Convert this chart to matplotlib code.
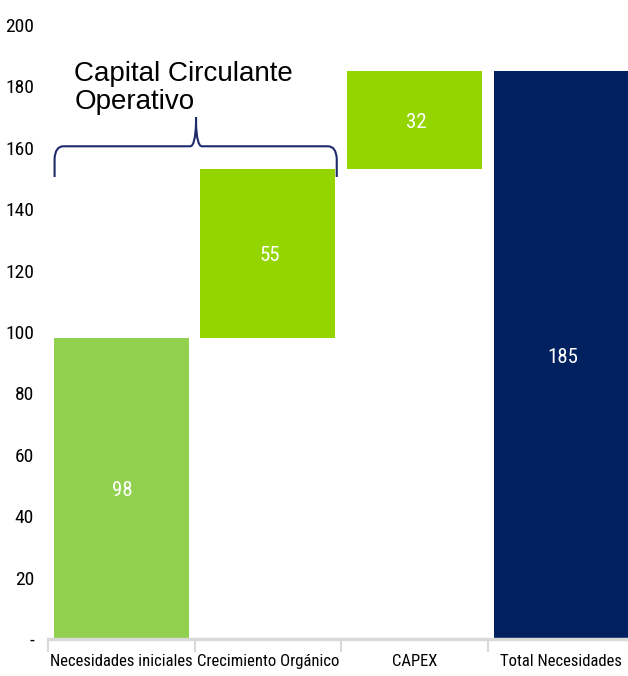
import matplotlib
matplotlib.use("Agg")
import matplotlib.pyplot as plt
from matplotlib.path import Path
from matplotlib.patches import PathPatch

# fuente estrecha tipo Arial Narrow para ejes y etiquetas
plt.rcParams["font.family"] = ["Roboto Condensed", "Archivo Narrow", "Liberation Sans", "DejaVu Sans"]

# ---------------------- datos ----------------------
categorias = ["Necesidades iniciales", "Crecimiento Orgánico", "CAPEX", "Total Necesidades"]
valores = [98, 55, 32, 185]
bases = [0, 98, 153, 0]
colores = ["#92D050", "#94D500", "#94D500", "#002060"]
yticks = [0, 20, 40, 60, 80, 100, 120, 140, 160, 180, 200]
ytick_labels = ["-"] + [str(v) for v in yticks[1:]]

# ---------------------- figura ----------------------
fig = plt.figure(figsize=(6.28, 6.76), dpi=100)
ax = fig.add_axes([0.0764, 0.0547, 0.9236, 0.9083])

x = list(range(len(categorias)))
ax.bar(x, valores, bottom=bases, width=0.92, color=colores, edgecolor="none", zorder=2)

for xi, v, b in zip(x, valores, bases):
    ax.text(xi + 0.01, b + v / 2, str(v), ha="center", va="center_baseline",
            color="white", fontsize=15)

ax.set_xlim(-0.5, 3.457)
ax.set_ylim(0, 200)
ax.set_yticks(yticks)
ax.set_yticklabels(ytick_labels, fontsize=14)
ax.tick_params(axis="y", length=0, pad=10)

# ticks de separación entre categorías
ax.set_xticks([-0.5, 0.5, 1.5, 2.5], minor=True)
ax.set_xticks(x)
ax.set_xticklabels(categorias, fontsize=12)
ax.tick_params(axis="x", which="major", length=0, pad=11)
ax.tick_params(axis="x", which="minor", length=9, color="#D9D9D9", width=1.5)

for s in ["top", "right", "left"]:
    ax.spines[s].set_visible(False)
ax.spines["bottom"].set_color("#D9D9D9")
ax.spines["bottom"].set_linewidth(2.5)

# ---------------------- llave "Capital Circulante Operativo" ----------------------
xl, xr, xc = -0.455, 1.47, 0.51
yb, ym, yt = 150.5, 160.5, 170.0
verts = [
    (xl, yb), (xl, ym - 4), (xl + 0.005, ym), (xl + 0.06, ym),
    (xc - 0.04, ym), (xc - 0.005, ym), (xc, yt - 2), (xc, yt),
    (xc, yt - 2), (xc + 0.005, ym), (xc + 0.04, ym),
    (xr - 0.06, ym), (xr - 0.005, ym), (xr, ym - 4), (xr, yb),
]
codes = [Path.MOVETO, Path.LINETO, Path.CURVE3, Path.CURVE3,
         Path.LINETO, Path.CURVE3, Path.CURVE3, Path.LINETO,
         Path.LINETO, Path.CURVE3, Path.CURVE3,
         Path.LINETO, Path.CURVE3, Path.CURVE3, Path.LINETO]
ax.add_patch(PathPatch(Path(verts, codes), fill=False, edgecolor="#1F2A6B", lw=1.5, zorder=3))

ax.text(-0.32, 179.5, "Capital Circulante\nOperativo", ha="left", va="center",
        fontsize=20, family=["Liberation Sans", "DejaVu Sans"], linespacing=1.12)

fig.savefig("out.png", dpi=100)
